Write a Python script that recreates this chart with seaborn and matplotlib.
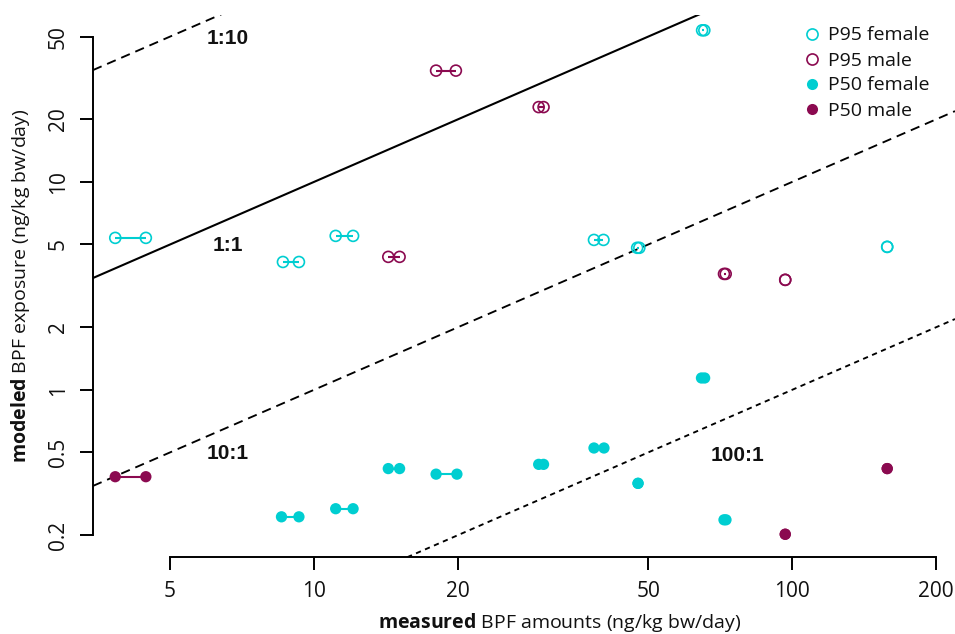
import numpy as np
import pandas as pd
import matplotlib
matplotlib.use("Agg")
import matplotlib.pyplot as plt
from matplotlib.lines import Line2D
import seaborn as sns

# Measured BPF amount ranges (low / high end) and modeled exposure per group
p95_female_lo = [3.84, 8.61, 11.1, 38.5, 47.4, 64.8, 158]
p95_female_hi = [4.45, 9.30, 12.07, 40.3, 47.9, 65.5, 158]
p95_female_y = [5.38, 4.12, 5.50, 5.26, 4.82, 53.6, 4.87]

p95_male_lo = [14.3, 18.0, 29.5, 72.0, 96.7]
p95_male_hi = [15.1, 19.8, 30.2, 72.6, 96.7]
p95_male_y = [4.36, 34.3, 22.9, 3.61, 3.38]

p50_female_lo = [8.55, 11.1, 14.3, 18.0, 29.5, 38.5, 47.6, 64.6, 72.0]
p50_female_hi = [9.30, 12.07, 15.1, 19.9, 30.2, 40.4, 47.6, 65.6, 72.7]
p50_female_y = [0.245, 0.268, 0.418, 0.393, 0.438, 0.525, 0.355, 1.14, 0.237]

p50_male_lo = [3.84, 96.7, 158]
p50_male_hi = [4.45, 96.7, 158]
p50_male_y = [0.382, 0.202, 0.418]

series_names = ["P95 female", "P95 male", "P50 female", "P50 male"]

# modeled : measured reference ratios
ratio_labels = ["1:10", "1:1", "10:1", "100:1"]
ratio_factors = [10.0, 1.0, 0.1, 0.01]

x_ticks = [5, 10, 20, 50, 100, 200]
x_ticklabels = ["5", "10", "20", "50", "100", "200"]
y_ticks = [0.2, 0.5, 1, 2, 5, 10, 20, 50]
y_ticklabels = ["0.2", "0.5", "1", "2", "5", "10", "20", "50"]

CYAN = "#00CED1"
MAROON = "#8B0A50"

sns.set_theme(style="white")
plt.rcParams["font.family"] = ["Open Sans", "DejaVu Sans"]
plt.rcParams["mathtext.fontset"] = "custom"
plt.rcParams["mathtext.rm"] = "Open Sans"
plt.rcParams["mathtext.bf"] = "Open Sans:bold"

groups = [
    (series_names[0], p95_female_lo, p95_female_hi, p95_female_y, CYAN, False),
    (series_names[1], p95_male_lo, p95_male_hi, p95_male_y, MAROON, False),
    (series_names[2], p50_female_lo, p50_female_hi, p50_female_y, CYAN, True),
    (series_names[3], p50_male_lo, p50_male_hi, p50_male_y, MAROON, True),
]

fig = plt.figure(figsize=(9.55, 6.34), dpi=100)
ax = fig.add_axes([93 / 955, 77 / 634, 862 / 955, 542 / 634])
ax.set_xscale("log")
ax.set_yscale("log")
ax.set_xlim(3.45, 219)
ax.set_ylim(0.157, 63.5)

# reference lines
xs = np.array(ax.get_xlim())
line_styles = {
    "1:10": dict(ls=(0, (5.0, 3.2)), lw=1.35),
    "1:1": dict(ls="-", lw=1.5),
    "10:1": dict(ls=(0, (5.0, 3.2)), lw=1.35),
    "100:1": dict(ls=(0, (2.8, 2.4)), lw=1.35),
}
for lab, f in zip(ratio_labels, ratio_factors):
    ax.plot(xs, xs * f, color="black", **line_styles[lab], zorder=1)

label_pos = {"1:10": (6.6, 49), "1:1": (6.6, 4.95), "10:1": (6.6, 0.495), "100:1": (77, 0.485)}
for lab in ratio_labels:
    px, py = label_pos[lab]
    ax.text(px, py, lab, ha="center", va="center", fontsize=15, fontweight="bold",
            family=["Liberation Sans", "DejaVu Sans"], color="#111111")

# measurement ranges and their end points
for name, lo, hi, yv, col, filled in groups:
    ax.hlines(yv, lo, hi, color=col, lw=1.5, zorder=2)
    df = pd.DataFrame({"measured": list(lo) + list(hi), "modeled": list(yv) * 2})
    if filled:
        sns.scatterplot(data=df, x="measured", y="modeled", ax=ax, color=col,
                        s=66, edgecolor="none", linewidth=0, zorder=3, legend=False)
    else:
        sns.scatterplot(data=df, x="measured", y="modeled", ax=ax, color=col,
                        facecolor="none", edgecolor=col, s=62, linewidth=1.2,
                        zorder=3, legend=False)

# axes in base-graphics style
for side in ["top", "right"]:
    ax.spines[side].set_visible(False)
ax.spines["left"].set_bounds(0.2, 50)
ax.spines["bottom"].set_bounds(5, 200)
for side in ["left", "bottom"]:
    ax.spines[side].set_color("black")
    ax.spines[side].set_linewidth(1.4)

ax.set_xticks(x_ticks)
ax.set_xticklabels(x_ticklabels)
ax.set_yticks(y_ticks)
ax.set_yticklabels(y_ticklabels, rotation=90, va="center")
ax.minorticks_off()
ax.tick_params(axis="both", which="major", direction="out", length=9.5, width=1.4,
               color="black", labelsize=15, labelcolor="#111111",
               left=True, bottom=True)
ax.tick_params(axis="x", pad=8)
ax.tick_params(axis="y", pad=8)

ax.set_xlabel(r"$\mathbf{measured}$ BPF amounts (ng/kg bw/day)", fontsize=14,
              color="#111111", labelpad=9)
ax.xaxis.set_label_coords((560 - 93) / 862, -(622 - 557) / 542 + 0.0)
ax.xaxis.label.set_va("center")
ax.set_ylabel(r"$\mathbf{modeled}$ BPF exposure (ng/kg bw/day)", fontsize=14,
              color="#111111")
ax.yaxis.set_label_coords(-(93 - 21) / 862, 0.5)
ax.yaxis.label.set_va("center")
ax.grid(False)

handles = []
for name, lo, hi, yv, col, filled in groups:
    handles.append(Line2D([], [], ls="none", marker="o", ms=8.0,
                          mfc=col if filled else "none", mec=col,
                          mew=0 if filled else 1.2, label=name))
leg = ax.legend(handles=handles, loc="upper left", frameon=False,
                bbox_to_anchor=(802 / 955, 1 - 26.5 / 634),
                bbox_transform=fig.transFigure, borderaxespad=0, borderpad=0,
                handlelength=1.0, handletextpad=0.35, labelspacing=0.36,
                fontsize=14)
for t in leg.get_texts():
    t.set_color("#111111")

fig.savefig("out.png", dpi=100)
